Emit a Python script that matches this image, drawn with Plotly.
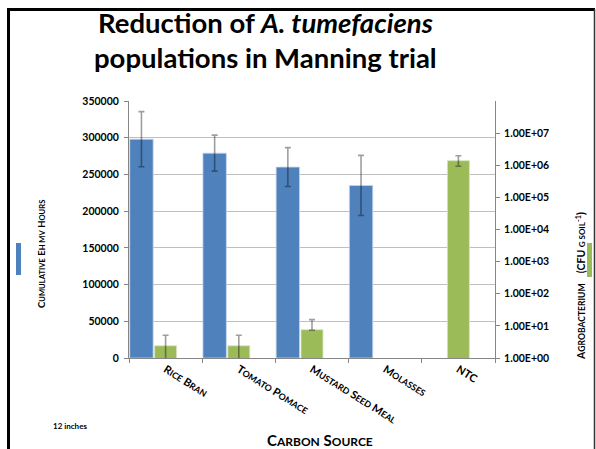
import plotly.graph_objects as go

# ---------------- data ----------------
categories = ["Rice Bran", "Tomato Pomace", "Mustard Seed Meal", "Molasses", "NTC"]
eh_values = [298000, 279000, 260000, 235000, None]
eh_errors = [37500, 24500, 26500, 41000, None]
cfu_values = [2.4, 2.4, 7.6, None, 1.39e6]
cfu_err_plus = [2.7, 2.7, 8.0, None, 590000]
cfu_err_minus = [2.4, 2.4, 0.3, None, 460000]
left_ticks = [0, 50000, 100000, 150000, 200000, 250000, 300000, 350000]
right_ticks = [1, 10, 100, 1e3, 1e4, 1e5, 1e6, 1e7]
right_ticktext = ["1.00E+00", "1.00E+01", "1.00E+02", "1.00E+03",
                  "1.00E+04", "1.00E+05", "1.00E+06", "1.00E+07"]

W, H = 596, 449
ML, MR, MT, MB = 129, W - 495, 101, H - 358
FONT = "Lato"
BLUE = "#4F81BD"
GREEN = "#9BBB59"


def px(x):
    return (x - ML) / (W - ML - MR)


def py(y):
    return (H - MB - y) / (H - MT - MB)


def smallcaps(text, big, small):
    words = []
    for w in text.split(" "):
        if w.isupper():
            words.append(w)
        else:
            s = w[0].upper()
            if len(w) > 1:
                s += f"<span style='font-size:{small}px'>{w[1:].upper()}</span>"
            words.append(s)
    return " ".join(words)


fig = go.Figure()

fig.add_trace(go.Bar(
    x=categories, y=eh_values, name="Cumulative Eh mV hours",
    marker=dict(color=BLUE, line=dict(color="#C9D7EA", width=0.8)),
    offset=-0.49, width=0.32,
    error_y=dict(type="data", array=eh_errors, visible=True,
                 color="rgba(0,0,0,0.38)", thickness=1.6, width=3),
    yaxis="y",
))

fig.add_trace(go.Bar(
    x=categories, y=cfu_values, name="Agrobacterium",
    marker=dict(color=GREEN, line=dict(color="#D6E4BE", width=0.8)),
    offset=-0.15, width=0.30,
    error_y=dict(type="data", symmetric=False, array=cfu_err_plus,
                 arrayminus=cfu_err_minus, visible=True,
                 color="rgba(0,0,0,0.38)", thickness=1.6, width=3),
    yaxis="y2",
))

tick_font = dict(family=FONT, size=10.5, color="#000000", weight="bold")

fig.update_layout(
    width=W, height=H,
    margin=dict(l=ML, r=MR, t=MT, b=MB, pad=0),
    paper_bgcolor="white", plot_bgcolor="white",
    barmode="overlay", showlegend=False,
    font=dict(family=FONT),
    xaxis=dict(
        type="category", range=[-0.5, 4.5],
        tickvals=categories,
        ticktext=[smallcaps(c, 11, 8.8) for c in categories],
        tickangle=32, tickfont=dict(family=FONT, size=11, color="#000", weight="bold"),
        tickson="boundaries", ticks="outside", ticklen=4, tickcolor="#868686",
        showline=True, linecolor="#868686", linewidth=1,
        showgrid=False, zeroline=False,
    ),
    yaxis=dict(
        range=[0, 350000], tickvals=left_ticks,
        ticktext=[str(v) for v in left_ticks],
        tickfont=tick_font, ticks="outside", ticklen=4, tickcolor="#868686",
        ticklabelstandoff=3,
        showline=True, linecolor="#868686", linewidth=1,
        showgrid=True, gridcolor="#BFBFBF", gridwidth=1, zeroline=False,
    ),
    yaxis2=dict(
        type="log", range=[0, 8], overlaying="y", side="right",
        tickvals=right_ticks, ticktext=right_ticktext,
        tickfont=tick_font, ticks="outside", ticklen=4, tickcolor="#868686",
        ticklabelstandoff=2,
        showline=True, linecolor="#868686", linewidth=1,
        showgrid=False, zeroline=False,
    ),
)

ann = []
ann.append(dict(text="Reduction of <i>A. tumefaciens</i>", x=px(265), y=py(22),
                xref="paper", yref="paper", showarrow=False,
                xanchor="center", yanchor="middle",
                font=dict(family=FONT, size=27.5, color="#000", weight="bold")))
ann.append(dict(text="populations in Manning trial", x=px(265), y=py(58),
                xref="paper", yref="paper", showarrow=False,
                xanchor="center", yanchor="middle",
                font=dict(family=FONT, size=27.5, color="#000", weight="bold")))
ann.append(dict(
    text="C<span style='font-size:7.6px'>UMULATIVE</span> E<span style='font-size:7.6px'>H MV</span> H<span style='font-size:7.6px'>OURS</span>",
    x=px(41), y=py(254), xref="paper", yref="paper", showarrow=False,
    textangle=-90, xanchor="center", yanchor="middle",
    font=dict(family=FONT, size=9.5, color="#000", weight="bold")))
ann.append(dict(
    text="A<span style='font-size:8.6px'>GROBACTERIUM</span>    (CFU <span style='font-size:8px'>G SOIL</span><sup>-1</sup>)",
    x=px(580), y=py(286), xref="paper", yref="paper", showarrow=False,
    textangle=-90, xanchor="center", yanchor="middle",
    font=dict(family=FONT, size=10.5, color="#000", weight="bold")))
ann.append(dict(
    text="C<span style='font-size:12px'>ARBON</span> S<span style='font-size:12px'>OURCE</span>",
    x=px(320), y=py(440), xref="paper", yref="paper", showarrow=False,
    xanchor="center", yanchor="middle",
    font=dict(family=FONT, size=15, color="#000", weight="bold")))
ann.append(dict(text="12 inches", x=px(69.5), y=py(425.5), xref="paper", yref="paper",
                showarrow=False, xanchor="center", yanchor="middle",
                font=dict(family=FONT, size=8, color="#000", weight="bold")))
fig.update_layout(annotations=ann)

shapes = [
    # legend keys
    dict(type="rect", xref="paper", yref="paper", x0=px(16), x1=px(21), y0=py(243), y1=py(275),
         fillcolor=BLUE, line=dict(width=0)),
    dict(type="rect", xref="paper", yref="paper", x0=px(587), x1=px(592), y0=py(243), y1=py(277),
         fillcolor=GREEN, line=dict(width=0)),
    # slide frame
    dict(type="line", xref="paper", yref="paper", x0=px(8.5), x1=px(8.5), y0=py(8), y1=py(449),
         line=dict(color="#000", width=3)),
    dict(type="line", xref="paper", yref="paper", x0=px(7), x1=px(595), y0=py(9.5), y1=py(9.5),
         line=dict(color="#000", width=3)),
    dict(type="line", xref="paper", yref="paper", x0=px(594.5), x1=px(594.5), y0=py(9), y1=py(449),
         line=dict(color="#333", width=1.5)),
]
fig.update_layout(shapes=shapes)

fig.write_html("out.html", config={"displayModeBar": False},
               post_script="document.body.style.margin='0';document.body.style.overflow='hidden';")
